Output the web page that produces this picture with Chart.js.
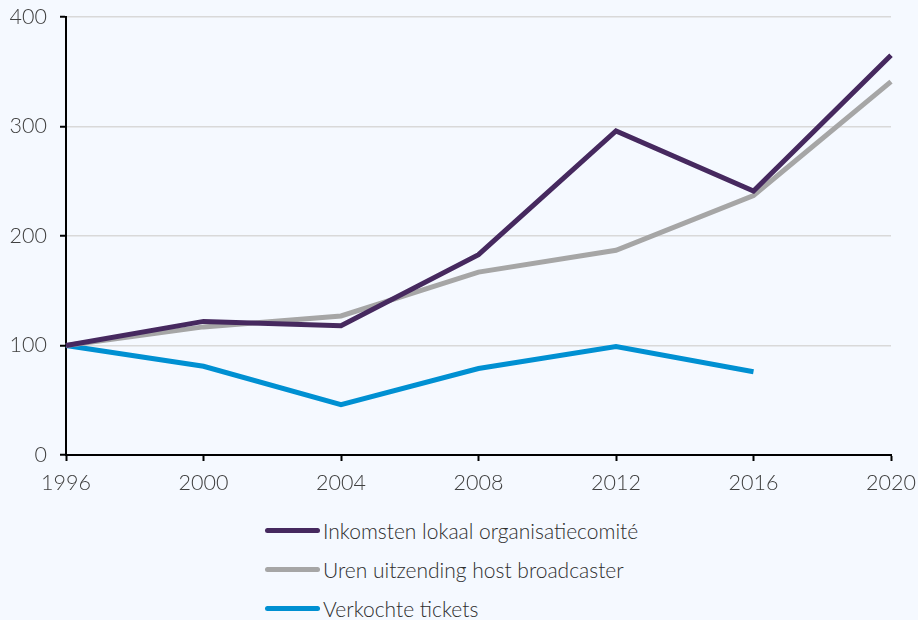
<!DOCTYPE html>
<html>
<head>
<meta charset="utf-8">
<script src="https://cdn.jsdelivr.net/npm/chart.js@4"></script>
<style>
    html, body { margin: 0; padding: 0; background: #f5f9ff; }
    #wrap { position: relative; width: 918px; height: 620px; }
    #chartBox { position: absolute; left: 0; top: 0; width: 918px; height: 500px; }
    #legend { position: absolute; left: 265px; top: 511px; font-family: Lato, sans-serif; font-weight: 300; font-size: 21px; color: #2e2e2e; }
    .item { display: flex; align-items: center; height: 39px; }
    .swatch { width: 55px; height: 5px; border-radius: 3px; margin-right: 3px; }
</style>
</head>
<body>
<div id="wrap">
    <div id="chartBox"><canvas id="lineChart"></canvas></div>
    <div id="legend"></div>
</div>
<script>
// Index 1996 = 100
const years = ['1996', '2000', '2004', '2008', '2012', '2016', '2020'];
const revenue = [100, 122, 118, 183, 296, 241, 365];
const broadcastHours = [100, 117, 127, 167, 187, 237, 341];
const ticketsSold = [100, 81, 46, 79, 99, 76, null];
const seriesNames = ['Inkomsten lokaal organisatiecomité', 'Uren uitzending host broadcaster', 'Verkochte tickets'];
const seriesColors = ['#46295f', '#a6a6a6', '#0090d2'];

const values = [revenue, broadcastHours, ticketsSold];
const tickFont = { family: 'Lato', size: 21.5, weight: 300 };

const chart = new Chart(document.getElementById('lineChart').getContext('2d'), {
    type: 'line',
    data: {
        labels: years,
        datasets: values.map((d, i) => ({
            label: seriesNames[i],
            data: d,
            borderColor: seriesColors[i],
            backgroundColor: seriesColors[i],
            borderWidth: 5,
            tension: 0,
            pointRadius: 0,
            fill: false
        }))
    },
    options: {
        responsive: true,
        maintainAspectRatio: false,
        animation: false,
        layout: { padding: { top: 17, right: 27, left: 0, bottom: 0 } },
        plugins: {
            legend: { display: false },
            tooltip: { enabled: false }
        },
        scales: {
            x: {
                offset: false,
                border: { color: '#000', width: 2 },
                grid: { drawOnChartArea: false, drawTicks: true, tickLength: 6, tickColor: '#000', tickWidth: 2 },
                ticks: { color: '#404040', font: tickFont, padding: 9, maxRotation: 0 },
                afterFit: s => { s.height = 45; s.paddingLeft = 0; s.paddingRight = 0; }
            },
            y: {
                min: 0,
                max: 400,
                border: { color: '#000', width: 2 },
                grid: { color: '#d9d9d9', lineWidth: 1.5, tickLength: 6, tickColor: '#000', tickWidth: 2 },
                ticks: { stepSize: 100, color: '#404040', font: tickFont, padding: 13 },
                afterFit: s => { s.width = 66; s.paddingTop = 0; s.paddingBottom = 0; }
            }
        }
    }
});

// Legend as a plain list, left aligned, one series per row
document.getElementById('legend').innerHTML = chart.data.datasets.map(ds => `
    <div class="item"><span class="swatch" style="background:${ds.borderColor}"></span>${ds.label}</div>
`).join('');
</script>
</body>
</html>
